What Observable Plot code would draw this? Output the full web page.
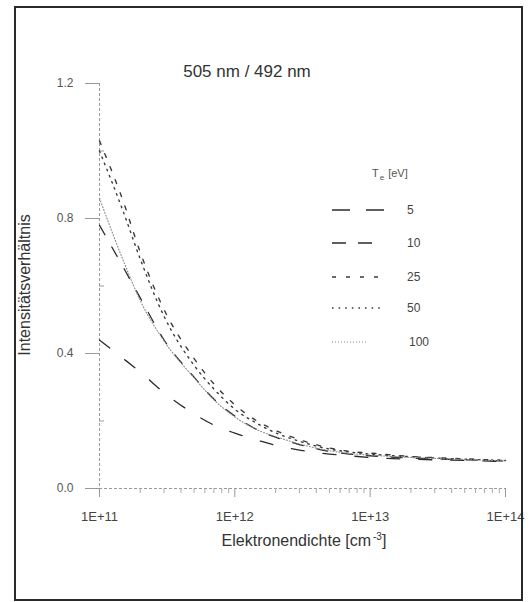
<!DOCTYPE html>
<html><head><meta charset="utf-8">
<script src="https://cdn.jsdelivr.net/npm/d3@7"></script>
<script src="https://cdn.jsdelivr.net/npm/@observablehq/plot@0.6"></script>
<style>
body{margin:0;background:#fff;font-family:"Liberation Sans",Arial,sans-serif;}
#wrap{position:relative;width:530px;height:602px;overflow:hidden;background:#fff;}
#frame{position:absolute;left:14px;top:6px;width:505px;height:591px;border:2px solid #2a2a2a;pointer-events:none;}
#chart{position:absolute;left:0;top:0;}
.lbl{position:absolute;color:#333;white-space:nowrap;text-align:center;}
#title{left:147px;width:200px;top:62px;font-size:17px;line-height:20px;}
#xtitle{left:154px;width:300px;top:528px;font-size:16px;line-height:18px;}
#xtitle sup{font-size:10px;vertical-align:6px;margin-left:2px;}
#ytitle{left:-75px;width:200px;top:275px;font-size:16px;line-height:20px;transform:rotate(-90deg);}
#legend{position:absolute;left:0;top:0;}
</style></head>
<body>
<div id="wrap">
  <div id="chart"></div>
  <svg id="legend" width="530" height="602"></svg>
  <div class="lbl" id="title">505 nm / 492 nm</div>
  <div class="lbl" id="ytitle">Intensitätsverhältnis</div>
  <div class="lbl" id="xtitle">Elektronendichte [cm<sup>-3</sup>]</div>
  <div id="frame"></div>
</div>
<script>
// ---- data ----
const density = [1e11, 1.5e11, 2e11, 3e11, 5e11, 7e11, 1e12, 1.5e12, 2e12, 3e12, 5e12, 7e12, 1e13, 2e13, 5e13, 1e14];
const te5   = [0.44, 0.385, 0.345, 0.284, 0.221, 0.188, 0.164, 0.142, 0.128, 0.114, 0.102, 0.097, 0.092, 0.087, 0.083, 0.080];
const te10  = [0.78, 0.655, 0.565, 0.44, 0.33, 0.265, 0.215, 0.172, 0.152, 0.130, 0.110, 0.102, 0.097, 0.090, 0.085, 0.081];
const te25  = [1.03, 0.85, 0.70, 0.53, 0.385, 0.31, 0.248, 0.197, 0.172, 0.145, 0.120, 0.110, 0.105, 0.095, 0.088, 0.083];
const te50  = [1.00, 0.82, 0.68, 0.51, 0.365, 0.295, 0.235, 0.19, 0.165, 0.140, 0.117, 0.108, 0.102, 0.094, 0.087, 0.083];
const te100 = [0.86, 0.675, 0.557, 0.437, 0.328, 0.263, 0.212, 0.172, 0.154, 0.132, 0.112, 0.104, 0.099, 0.092, 0.086, 0.082];
const seriesNames = ["5", "10", "25", "50", "100"];
const seriesValues = [te5, te10, te25, te50, te100];
const yTicks = [0, 0.4, 0.8, 1.2];
const yMinorTicks = [0.2, 0.6, 1.0];
const xTicks = [1e11, 1e12, 1e13, 1e14];
const xMinorTicks = [2e11,3e11,4e11,5e11,6e11,7e11,8e11,9e11,2e12,3e12,4e12,5e12,6e12,7e12,8e12,9e12,2e13,3e13,4e13,5e13,6e13,7e13,8e13,9e13];

// ---- styles ----
const styles = {
  "5":   {stroke: "#2b2b2b", dash: "13,19", width: 1.3},
  "10":  {stroke: "#2b2b2b", dash: "11,14", width: 1.3},
  "25":  {stroke: "#3a3a3a", dash: "4,10", width: 1.4},
  "50":  {stroke: "#3a3a3a", dash: "1.6,5", width: 1.4},
  "100": {stroke: "#8a8a8a", dash: "1,2", width: 1.1}
};

const rows = [];
seriesNames.forEach((name, i) => density.forEach((d, j) => rows.push({series: name, n: d, v: seriesValues[i][j]})));

const lineMarks = seriesNames.map(name => Plot.line(rows.filter(r => r.series === name), {
  x: "n", y: "v", curve: "monotone-x",
  stroke: styles[name].stroke, strokeWidth: styles[name].width, strokeDasharray: styles[name].dash
}));

const plot = Plot.plot({
  width: 530, height: 602,
  marginLeft: 99, marginRight: 25, marginTop: 83, marginBottom: 114,
  style: {fontFamily: "'Liberation Sans', Arial, sans-serif", background: "transparent"},
  x: {type: "log", domain: [1e11, 1e14], axis: null},
  y: {domain: [0, 1.2], axis: null},
  marks: [
    Plot.ruleX([1e11], {stroke: "#9a9a9a", strokeDasharray: "3,2"}),
    Plot.ruleY([0], {stroke: "#9a9a9a", strokeDasharray: "3,2"}),
    Plot.axisY(yTicks, {label: null, tickSize: 14, tickPadding: 12, tickFormat: d3.format(".1f"), fontSize: 12, stroke: "#999", fill: "#555"}),
    Plot.axisY(yMinorTicks, {label: null, tickSize: -5, text: null, stroke: "#999"}),
    Plot.axisX(xTicks, {label: null, tickSize: 9, tickPadding: 14, tickFormat: d => "1E+" + Math.round(Math.log10(d)), fontSize: 13, stroke: "#999", fill: "#444"}),
    Plot.axisX(xMinorTicks, {label: null, tickSize: 5, text: null, stroke: "#aaa"}),
    ...lineMarks
  ]
});
document.getElementById("chart").appendChild(plot);

// ---- legend ----
const lg = d3.select("#legend");
const head = lg.append("text").attr("x", 372).attr("y", 177).attr("font-size", 11).attr("fill", "#555")
  .attr("font-family", "'Liberation Sans', Arial, sans-serif");
head.append("tspan").text("T");
head.append("tspan").attr("dx", 1).attr("dy", 3).attr("font-size", 8).text("e");
head.append("tspan").attr("dx", 4).attr("dy", -3).text("[eV]");
const rowY = [210, 243, 277, 308, 342];
seriesNames.forEach((name, i) => {
  const s = styles[name];
  lg.append("line").attr("x1", 332).attr("x2", name === "100" ? 368 : 384)
    .attr("y1", rowY[i]).attr("y2", rowY[i])
    .attr("stroke", s.stroke).attr("stroke-width", s.width).attr("stroke-dasharray", name === "5" ? "18,16" : name === "10" ? "14,12" : s.dash);
  lg.append("text").attr("x", name === "100" ? 409 : 407).attr("y", rowY[i] + 4)
    .attr("font-size", 12).attr("fill", "#444").attr("font-family", "'Liberation Sans', Arial, sans-serif")
    .text(name);
});
</script>
</body></html>
